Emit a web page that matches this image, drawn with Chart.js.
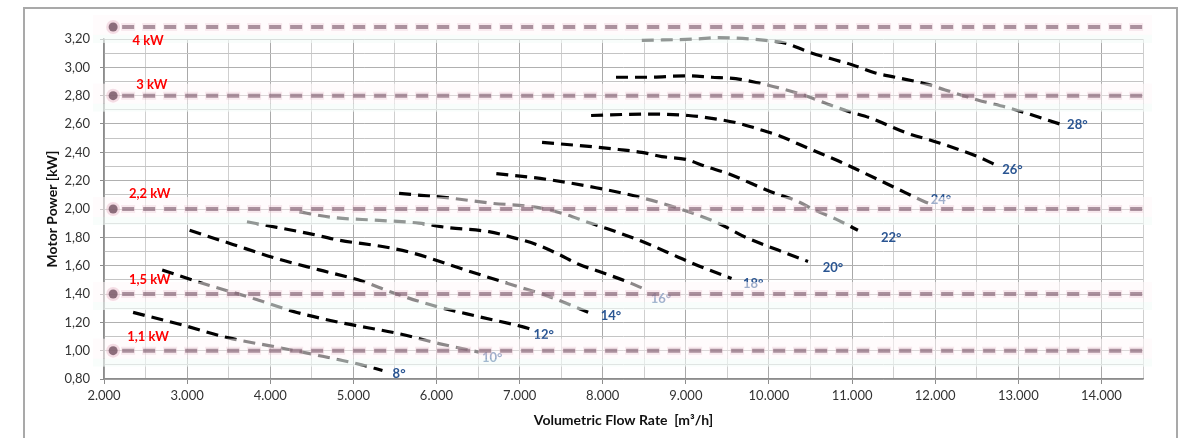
<!DOCTYPE html>
<html><head><meta charset="utf-8">
<script src="https://cdn.jsdelivr.net/npm/chart.js@4.4.1/dist/chart.umd.min.js"></script>
<style>
html,body{margin:0;padding:0;background:#fff;}
#wrap{position:relative;width:1186px;height:438px;overflow:hidden;background:#fff;}
#frame{position:absolute;left:23px;top:7px;width:1155px;height:470px;border:2px solid #a9a9a9;box-sizing:border-box;}
canvas{position:absolute;left:0;top:0;}
</style></head>
<body><div id="wrap"><div id="frame"></div><canvas id="c" width="1186" height="438"></canvas></div>
<script>
// ---- data ----
const flow08 = [2350, 2950, 3500, 4030, 4550, 5100, 5350];
const power08 = [1.27, 1.18, 1.09, 1.03, 0.97, 0.90, 0.86];
const flow10 = [2700, 3270, 3790, 4320, 4830, 5550, 6030, 6510];
const power10 = [1.57, 1.46, 1.37, 1.27, 1.20, 1.12, 1.05, 0.99];
const flow12 = [3030, 3550, 4080, 4590, 5110, 5470, 5950, 6510, 7030, 7150];
const power12 = [1.85, 1.75, 1.65, 1.57, 1.49, 1.41, 1.32, 1.24, 1.17, 1.15];
const flow14 = [3720, 4080, 4440, 4830, 5400, 5710, 6240, 6720, 6990, 7320, 7830];
const power14 = [1.91, 1.87, 1.83, 1.78, 1.73, 1.69, 1.59, 1.50, 1.45, 1.39, 1.27];
const flow16 = [4350, 4750, 5310, 5790, 6120, 6630, 6910, 7200, 7470, 7710, 7950, 8280, 8520];
const power16 = [1.98, 1.94, 1.92, 1.90, 1.87, 1.84, 1.80, 1.75, 1.68, 1.61, 1.56, 1.49, 1.43];
const flow18 = [5550, 6120, 6670, 7230, 7560, 7800, 8110, 8520, 8910, 9150, 9550];
const power18 = [2.11, 2.08, 2.04, 2.01, 1.96, 1.91, 1.85, 1.76, 1.66, 1.60, 1.51];
const flow20 = [6720, 7320, 7920, 8400, 8880, 9390, 9720, 10110, 10470];
const power20 = [2.25, 2.21, 2.15, 2.09, 2.01, 1.90, 1.80, 1.71, 1.63];
const flow22 = [7270, 7870, 8190, 8470, 8710, 9000, 9240, 9510, 9790, 10030, 10320, 10560, 10800, 11070];
const power22 = [2.47, 2.44, 2.42, 2.40, 2.37, 2.35, 2.30, 2.25, 2.18, 2.12, 2.06, 1.99, 1.93, 1.85];
const flow24 = [7860, 8520, 9030, 9310, 9600, 9840, 10110, 10390, 10630, 10870, 11160, 11520, 11880, 11970];
const power24 = [2.66, 2.67, 2.66, 2.64, 2.61, 2.57, 2.52, 2.45, 2.39, 2.33, 2.25, 2.15, 2.05, 2.03];
const flow26 = [8160, 8520, 9000, 9310, 9600, 9870, 10150, 10440, 10710, 10950, 11230, 11640, 12030, 12510, 12730];
const power26 = [2.93, 2.93, 2.94, 2.93, 2.92, 2.89, 2.85, 2.80, 2.74, 2.69, 2.64, 2.54, 2.47, 2.37, 2.31];
const flow28 = [8470, 9120, 9390, 9960, 10200, 10470, 10750, 10990, 11280, 11520, 11910, 12120, 12510, 12910, 13500];
const power28 = [3.19, 3.20, 3.21, 3.19, 3.17, 3.11, 3.06, 3.02, 2.96, 2.93, 2.88, 2.84, 2.77, 2.71, 2.60];

const angleLabels = ['8°', '10°', '12°', '14°', '16°', '18°', '20°', '22°', '24°', '26°', '28°'];
const angleLabelFlow = [5550, 6670, 7290, 8100, 8700, 9810, 10770, 11470, 12070, 12930, 13710];
const angleLabelPower = [0.835, 0.948, 1.11, 1.245, 1.365, 1.47, 1.584, 1.795, 2.063, 2.275, 2.593];

const motorLabels = ['4 kW', '3 kW', '2,2 kW', '1,5 kW', '1,1 kW'];
const motorPower = [3.285, 2.80, 2.00, 1.40, 1.00];
const motorLabelFlow = [2530, 2575, 2550, 2550, 2530];
const motorLabelPower = [3.185, 2.88, 2.105, 1.50, 1.095];
const motorLineStart = 2110;
const motorLineEnd = 14560;

const xMin = 2000, xMax = 14500, xStep = 500;
const yMin = 0.8, yMax = 3.2, yStep = 0.1;

// ---- build ----
const flows = [flow08, flow10, flow12, flow14, flow16, flow18, flow20, flow22, flow24, flow26, flow28];
const powers = [power08, power10, power12, power14, power16, power18, power20, power22, power24, power26, power28];

const datasets = flows.map((fx, i) => ({
  label: angleLabels[i],
  data: fx.map((v, j) => ({x: v, y: powers[i][j]})),
  borderColor: '#000',
  borderWidth: 3.2,
  borderDash: [12, 7],
  borderCapStyle: 'butt',
  pointRadius: 0,
  fill: false,
  cubicInterpolationMode: 'monotone',
  clip: false
}));

const FONT = 'Lato, "Open Sans", sans-serif';

const overlayPlugin = {
  id: 'overlay',
  afterDatasetsDraw(chart) {
    const {ctx, scales: {x, y}} = chart;
    ctx.save();
    // degree labels
    ctx.font = 'bold 13px ' + FONT;
    ctx.fillStyle = '#2a5592';
    ctx.textAlign = 'center';
    ctx.textBaseline = 'middle';
    angleLabels.forEach((t, i) => {
      ctx.fillText(t, x.getPixelForValue(angleLabelFlow[i]), y.getPixelForValue(angleLabelPower[i]));
    });
    // motor bands
    const bl = x.left - 11, br = x.right + 9;
    motorPower.forEach((p) => {
      const cy = y.getPixelForValue(p);
      ctx.fillStyle = 'rgba(255,247,250,0.55)';
      ctx.fillRect(bl, cy - 12, br - bl, 20);
      ctx.fillStyle = 'rgba(244,251,248,0.6)';
      ctx.fillRect(bl, cy + 8, br - bl, 8);
      const x0 = x.getPixelForValue(motorLineStart), x1 = x.getPixelForValue(motorLineEnd);
      // halo
      ctx.setLineDash([14, 7]);
      ctx.lineWidth = 8;
      ctx.strokeStyle = 'rgba(232,190,205,0.3)';
      ctx.beginPath(); ctx.moveTo(x0 + 8, cy); ctx.lineTo(x1, cy); ctx.stroke();
      ctx.setLineDash([12, 9]);
      ctx.lineWidth = 4;
      ctx.strokeStyle = 'rgba(125,90,108,0.62)';
      ctx.beginPath(); ctx.moveTo(x0 + 9, cy); ctx.lineTo(x1, cy); ctx.stroke();
      ctx.setLineDash([]);
      ctx.fillStyle = 'rgba(230,185,200,0.45)';
      ctx.beginPath(); ctx.arc(x0, cy, 7, 0, Math.PI * 2); ctx.fill();
      ctx.fillStyle = 'rgba(105,72,88,0.75)';
      ctx.beginPath(); ctx.arc(x0, cy, 4.5, 0, Math.PI * 2); ctx.fill();
    });
    // motor labels
    ctx.font = 'bold 13px ' + FONT;
    ctx.fillStyle = '#ff0000';
    motorLabels.forEach((t, i) => {
      ctx.fillText(t, x.getPixelForValue(motorLabelFlow[i]), y.getPixelForValue(motorLabelPower[i]));
    });
    ctx.restore();
  }
};

const isMajorX = v => Math.round(v) % 1000 === 0;
const isMajorY = v => Math.round(v * 10) % 2 === 0;

new Chart(document.getElementById('c'), {
  type: 'line',
  data: {datasets},
  options: {
    responsive: false,
    animation: false,
    devicePixelRatio: 1,
    layout: {padding: {left: 0, right: 43, top: 39, bottom: 0}},
    plugins: {legend: {display: false}, tooltip: {enabled: false}},
    scales: {
      x: {
        type: 'linear', min: xMin, max: xMax,
        afterFit(s) { s.height = 59; },
        ticks: {
          stepSize: xStep, autoSkip: false, maxRotation: 0, padding: 4,
          color: '#333', font: {family: FONT, size: 13},
          callback: v => isMajorX(v) ? (Math.round(v / 1000) + '.000') : ''
        },
        grid: {
          color: c => isMajorX(c.tick.value) ? '#a9a9a9' : '#cfcfcf',
          tickColor: c => isMajorX(c.tick.value) ? '#8c8c8c' : 'rgba(0,0,0,0)',
          tickLength: 5, lineWidth: 1
        },
        border: {color: '#8c8c8c', width: 1.5},
        title: {
          display: true, text: 'Volumetric Flow Rate  [m³/h]', color: '#111',
          font: {family: FONT, size: 14, weight: 'bold'}, padding: {top: 4, bottom: 9}
        }
      },
      y: {
        type: 'linear', min: yMin, max: yMax,
        afterFit(s) { s.width = 104; },
        ticks: {
          stepSize: yStep, autoSkip: false, padding: 10,
          color: '#333', font: {family: FONT, size: 13},
          callback: v => isMajorY(v) ? v.toFixed(2).replace('.', ',') : ''
        },
        grid: {
          color: c => isMajorY(c.tick.value) ? '#b0b0b0' : '#c4c4c4',
          tickColor: c => isMajorY(c.tick.value) ? '#8c8c8c' : 'rgba(0,0,0,0)',
          tickLength: 4, lineWidth: 1
        },
        border: {color: '#8c8c8c', width: 1.5},
        title: {
          display: true, text: 'Motor Power [kW]', color: '#111',
          font: {family: FONT, size: 14, weight: 'bold'}, padding: {top: 44, bottom: 0}
        }
      }
    }
  },
  plugins: [overlayPlugin]
});
</script>
</body></html>
